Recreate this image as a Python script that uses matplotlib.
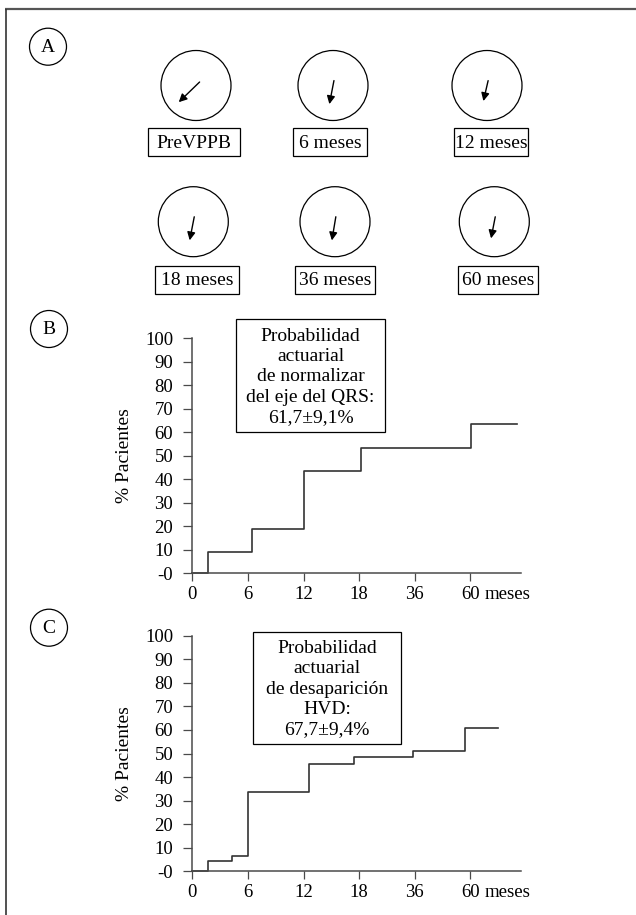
import matplotlib
matplotlib.use("Agg")
import matplotlib.pyplot as plt
from matplotlib.patches import Circle, Rectangle
import numpy as np

plt.rcParams["font.family"] = ["Liberation Serif", "DejaVu Serif"]

# panel A: QRS axis (degrees, 0 = right, positive = clockwise) at each visit
visit_labels = ["PreVPPB", "6 meses", "12 meses", "18 meses", "36 meses", "60 meses"]
qrs_axis_deg = [136, 101, 103, 101, 99.5, 101]
vector_len = [29, 24, 21, 24, 24, 22]

# panels B and C share the time axis (equally spaced ticks)
time_labels = ["0", "6", "12", "18", "36", "60"]
y_ticks = [0, 10, 20, 30, 40, 50, 60, 70, 80, 90, 100]
y_tick_labels = ["-0", "10", "20", "30", "40", "50", "60", "70", "80", "90", "100"]

# B: normalisation of the QRS axis (event positions on the tick scale)
qrs_times = [0.28, 1.075, 2.016, 3.04, 5.01]
qrs_pct = [9, 19, 43.5, 53.5, 63.5]
qrs_end = 5.83
qrs_text = "Probabilidad\nactuarial\nde normalizar\ndel eje del QRS:\n61,7±9,1%"

# C: disappearance of RVH
hvd_times = [0.28, 0.71, 1.0, 2.1, 2.9, 3.97, 4.91]
hvd_pct = [4.5, 6.7, 33.8, 45.6, 48.7, 51.0, 61.0]
hvd_end = 5.5
hvd_text = "Probabilidad\nactuarial\nde desaparición\nHVD:\n67,7±9,4%"

W, H = 636, 915
AXIS_GRAY = "#4a4a4a"

fig = plt.figure(figsize=(W / 100, H / 100), dpi=100)

# overlay in pixel units for frame, panel letters and schematic panel A
ov = fig.add_axes([0, 0, 1, 1])
ov.set_xlim(0, W)
ov.set_ylim(H, 0)
ov.axis("off")

ov.plot([5, W], [9, 9], color="#555555", lw=1.6, solid_capstyle="butt")
ov.plot([6, 6], [9, H], color="#333333", lw=1.2, solid_capstyle="butt")

for letter, (cx, cy) in zip("ABC", [(48, 46.7), (49, 329), (49, 627.7)]):
    ov.add_patch(Circle((cx, cy), 18.5, fill=False, lw=0.9, color="black"))
    ov.text(cx, cy + 1, letter, ha="center", va="center", fontsize=14)

circle_xy = [(196, 85.5), (333, 85.5), (487, 85.5),
             (193.3, 221.7), (335, 221.7), (494.3, 221.7)]
label_xy = [(193.8, 142.2), (329.9, 142.2), (491.3, 142.2),
            (197, 279.7), (335, 279.7), (498.4, 279.7)]
box_w = [92, 74, 74, 84, 80, 80]

for (cx, cy), ang, ln, (lx, ly), bw, lab in zip(circle_xy, qrs_axis_deg, vector_len,
                                                label_xy, box_w, visit_labels):
    ov.add_patch(Circle((cx, cy), 35, fill=False, lw=0.9, color="black"))
    d = np.array([np.cos(np.radians(ang)), np.sin(np.radians(ang))])
    start = np.array([cx, cy]) - 5 * d
    end = start + ln * d
    ov.annotate("", xy=end, xytext=start,
                arrowprops=dict(arrowstyle="-|>", mutation_scale=12, lw=1.0,
                                color="black", shrinkA=0, shrinkB=0))
    ov.add_patch(Rectangle((lx - bw / 2, ly - 13.8), bw, 27.6, fill=False,
                           lw=0.9, color="black"))
    ov.text(lx, ly + 1, lab, ha="center", va="center", fontsize=14)


def survival_panel(rect, times, pct, t_end, text, box):
    ax = fig.add_axes(rect)
    ax.set_facecolor("none")
    xs = [0] + list(times) + [t_end]
    ys = [0] + list(pct) + [pct[-1]]
    ax.step(xs, ys, where="post", color="#333333", lw=1.2, clip_on=False)
    ax.set_xlim(0, 5.9)
    ax.set_ylim(0, 100)
    for s in ("top", "right"):
        ax.spines[s].set_visible(False)
    for s in ("left", "bottom"):
        ax.spines[s].set_color(AXIS_GRAY)
        ax.spines[s].set_linewidth(1.1)
    ax.set_xticks(range(len(time_labels)))
    ax.set_xticklabels(time_labels, fontsize=13.5)
    ax.set_yticks(y_ticks)
    ax.set_yticklabels(y_tick_labels, fontsize=13.5)
    ax.tick_params(axis="y", direction="out", length=6.7, width=0.9,
                   color=AXIS_GRAY, pad=7)
    ax.tick_params(axis="x", direction="out", length=6, width=0.9,
                   color=AXIS_GRAY, pad=3.5)
    ax.annotate("meses", xy=(len(time_labels) - 1, 0),
                xycoords=("data", "axes fraction"),
                xytext=(10, -9.5), textcoords="offset points",
                ha="left", va="top", fontsize=13.5)
    ax.set_ylabel("% Pacientes", fontsize=14, labelpad=9)
    # text box in pixel units of the overlay
    x0, y0, x1, y1 = box
    ov.add_patch(Rectangle((x0, y0), x1 - x0, y1 - y0, fill=False,
                           lw=0.9, color="black"))
    ov.text((x0 + x1) / 2, (y0 + y1) / 2 + 1, text, ha="center", va="center",
            fontsize=14, linespacing=1.26)
    return ax


survival_panel([192.3 / W, 1 - 573.3 / H, 328.2 / W, 235 / H],
               qrs_times, qrs_pct, qrs_end, qrs_text, (236.1, 319.3, 384.8, 432.3))
survival_panel([192.3 / W, 1 - 871.3 / H, 328.2 / W, 235.6 / H],
               hvd_times, hvd_pct, hvd_end, hvd_text, (253.2, 631.7, 401.2, 744.3))

fig.savefig("out.png", dpi=100)
